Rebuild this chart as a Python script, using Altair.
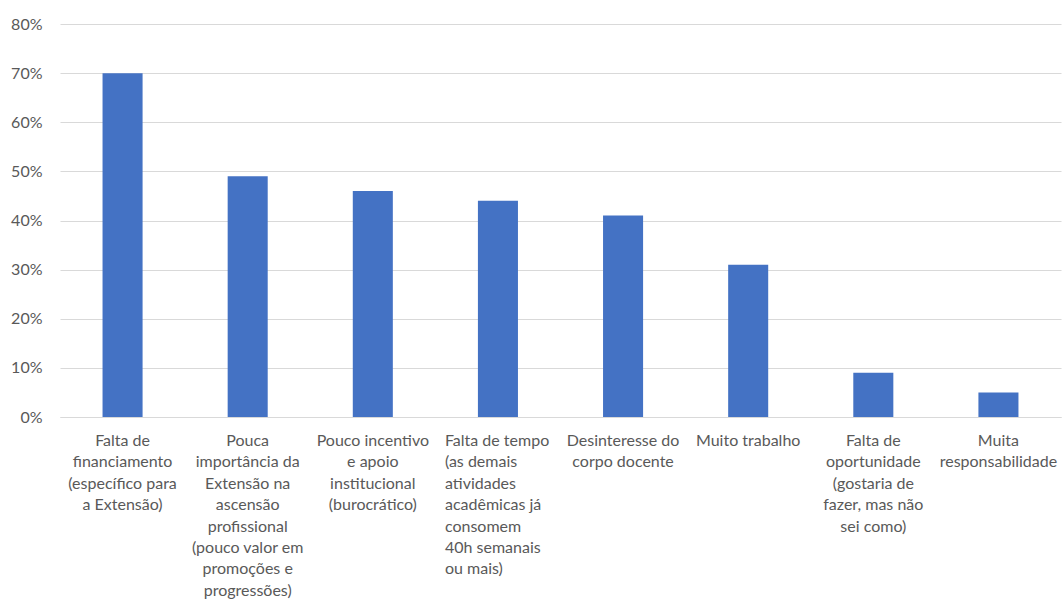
import altair as alt
import pandas as pd

categories = [
    "Falta de\nfinanciamento\n(específico para\na Extensão)",
    "Pouca\nimportância da\nExtensão na\nascensão\nprofissional\n(pouco valor em\npromoções e\nprogressões)",
    "Pouco incentivo\ne apoio\ninstitucional\n(burocrático)",
    "Falta de tempo\n(as demais\n\u00a0atividades\nacadêmicas já\nconsomem\n40h semanais\nou mais)",
    "Desinteresse do\ncorpo docente",
    "Muito trabalho",
    "Falta de\noportunidade\n(gostaria de\nfazer, mas não\nsei como)",
    "Muita\nresponsabilidade",
]
values = [70, 49, 46, 44, 41, 31, 9, 5]
y_ticks = [0, 10, 20, 30, 40, 50, 60, 70, 80]
left_aligned = [False, False, False, True, False, False, False, False]

df = pd.DataFrame({"cat": categories, "value": values, "left": left_aligned})

W, H = 1001, 393
FONT = "Lato"
GRAY = "#595959"

x = alt.X(
    "cat:N",
    sort=None,
    scale=alt.Scale(paddingInner=0.68, paddingOuter=0.34),
    axis=alt.Axis(labels=False, ticks=False, title=None, domain=True,
                  domainColor="#d9d9d9", grid=False),
)

bars = alt.Chart(df).mark_bar(color="#4472C4").encode(
    x=x,
    y=alt.Y(
        "value:Q",
        scale=alt.Scale(domain=[0, 80], nice=False),
        axis=alt.Axis(values=y_ticks, labelExpr="datum.value + '%'", title=None,
                      domain=False, ticks=False, grid=True, gridColor="#d9d9d9",
                      labelFont=FONT, labelFontSize=16, labelColor=GRAY,
                      labelPadding=18),
    ),
)

txt_center = alt.Chart(df).transform_filter("!datum.left").mark_text(
    lineBreak="\n", align="center", baseline="alphabetic", font=FONT,
    fontSize=16, color=GRAY, lineHeight=21.4,
).encode(x=alt.X("cat:N", sort=None), y=alt.value(H + 29), text="cat:N")

txt_left = alt.Chart(df).transform_filter("datum.left").mark_text(
    lineBreak="\n", align="left", baseline="alphabetic", font=FONT,
    fontSize=16, color=GRAY, lineHeight=21.4, dx=-53,
).encode(x=alt.X("cat:N", sort=None), y=alt.value(H + 29), text="cat:N")

chart = alt.layer(bars, txt_center, txt_left).properties(
    width=W, height=H,
    autosize=alt.AutoSizeParams(type="none"),
    padding={"left": 60, "top": 24, "right": 1, "bottom": 183},
    background="white",
).configure_view(stroke=None)

chart.save("out.html", embed_options={"renderer": "svg", "actions": False})
